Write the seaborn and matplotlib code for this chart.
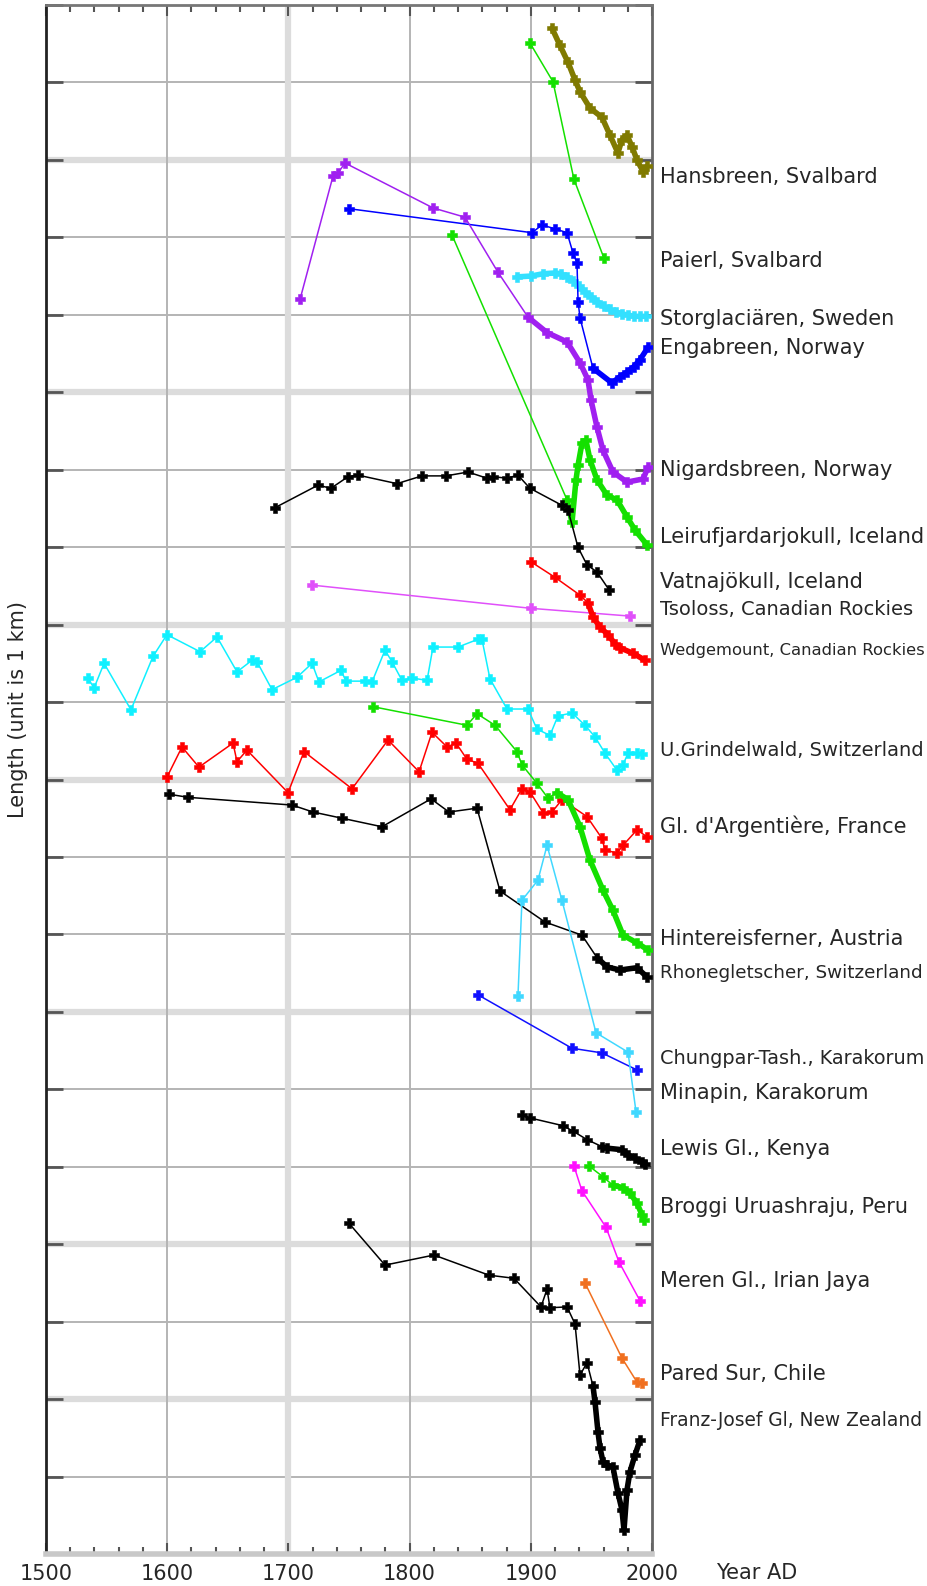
import matplotlib
matplotlib.use("Agg")
import matplotlib.pyplot as plt
import seaborn as sns
import pandas as pd
from matplotlib.ticker import MultipleLocator

sns.set_theme(style="white")
plt.rcParams['font.family'] = ['DejaVu Sans']

# ---------------- data (year AD, length in km, arbitrary offset) ----------------
hansbreen_year = [1917.5, 1924, 1930.7, 1936.5, 1940.6, 1948.8, 1958.7, 1965.3, 1971.9, 1975.2, 1979.4, 1983.5, 1987.6, 1992.6, 1995.9]
hansbreen_len = [19.70, 19.48, 19.26, 19.03, 18.88, 18.67, 18.55, 18.32, 18.09, 18.26, 18.32, 18.17, 18.00, 17.85, 17.92]

paierl_year = [1899.3, 1918.3, 1935.6, 1960.4]
paierl_len = [19.51, 19.01, 17.75, 16.73]

storglaciaren_year = [1889, 1900, 1910, 1920, 1925, 1930, 1935, 1940, 1945, 1950, 1955, 1960, 1965, 1970, 1975, 1980, 1985, 1990, 1995]
storglaciaren_len = [16.49, 16.50, 16.53, 16.54, 16.53, 16.49, 16.44, 16.37, 16.29, 16.23, 16.17, 16.11, 16.07, 16.04, 16.01, 16.00, 15.98, 15.98, 15.98]

engabreen_year = [1750.0, 1901.0, 1909.2, 1920.0, 1929.9, 1934.8, 1938.1, 1939.0, 1940.6, 1951.3, 1967.0, 1973.6, 1979.4, 1985.0, 1990.1, 1996.7]
engabreen_len = [17.37, 17.06, 17.16, 17.11, 17.06, 16.80, 16.67, 16.17, 15.96, 15.31, 15.12, 15.20, 15.26, 15.33, 15.42, 15.58]

nigardsbreen_year = [1709.6, 1736.8, 1740.9, 1746.7, 1819.3, 1845.7, 1872.9, 1897.7, 1913.4, 1929.9, 1940.6, 1947.2, 1949.7, 1954.6, 1959.6, 1967.8, 1979.4, 1992.6, 1996.7]
nigardsbreen_len = [16.20, 17.79, 17.83, 17.96, 17.38, 17.26, 16.55, 15.97, 15.77, 15.65, 15.38, 15.16, 14.90, 14.55, 14.25, 13.97, 13.84, 13.88, 14.03]

leiru_year = [1835.0, 1929.9, 1934.0, 1937.3, 1939.0, 1942.2, 1945.5, 1948.8, 1954.6, 1962.9, 1971.1, 1979.4, 1986.0, 1995.9]
leiru_len = [17.03, 13.61, 13.32, 13.87, 14.06, 14.34, 14.38, 14.13, 13.87, 13.67, 13.61, 13.39, 13.22, 13.03]

vatna_year = [1689, 1724.4, 1735.1, 1749.2, 1757.4, 1789.6, 1810.2, 1830, 1848.2, 1863.9, 1868.8, 1880.4, 1889.4, 1899.3, 1925.7, 1930.7, 1938.9, 1946.4, 1954.6, 1964.5]
vatna_len = [13.51, 13.80, 13.76, 13.91, 13.93, 13.82, 13.92, 13.92, 13.97, 13.89, 13.91, 13.89, 13.93, 13.76, 13.54, 13.48, 13.00, 12.77, 12.68, 12.45]

tsoloss_year = [1719.5, 1900.2, 1981.8]
tsoloss_len = [12.51, 12.21, 12.11]

wedge_year = [1900.2, 1920, 1940.6, 1947.2, 1951.3, 1957, 1963.7, 1969.5, 1973.6, 1984.3, 1994.2]
wedge_len = [12.81, 12.61, 12.38, 12.28, 12.10, 11.97, 11.87, 11.75, 11.70, 11.63, 11.54]

grindel_year = [1534.7, 1539.6, 1547.9, 1570.1, 1588.3, 1599.8, 1627.1, 1641.1, 1657.6, 1670, 1674.1, 1686.5, 1707.1, 1719.5, 1725.2, 1743.4, 1747.5, 1763.2, 1769, 1779.7, 1785.5, 1793.7, 1802, 1814.4, 1819.3, 1839.9, 1856.4, 1859.7, 1866.3, 1880.4, 1897.7, 1905.1, 1915.8, 1922.4, 1934, 1944.7, 1953, 1961.2, 1971.1, 1976.1, 1980.2, 1987.6, 1991.7]
grindel_len = [11.31, 11.18, 11.50, 10.90, 11.59, 11.87, 11.65, 11.84, 11.39, 11.54, 11.52, 11.16, 11.32, 11.50, 11.26, 11.41, 11.27, 11.27, 11.26, 11.67, 11.52, 11.28, 11.31, 11.28, 11.71, 11.71, 11.81, 11.81, 11.30, 10.91, 10.91, 10.65, 10.57, 10.82, 10.86, 10.70, 10.55, 10.34, 10.12, 10.19, 10.34, 10.34, 10.33]

hinter_year = [1769.8, 1847.4, 1855.6, 1870.5, 1888.6, 1892.7, 1905.1, 1914.2, 1921.6, 1930.7, 1940.6, 1948.8, 1959.6, 1967.8, 1976.1, 1987.6, 1996.7]
hinter_len = [10.94, 10.70, 10.85, 10.70, 10.36, 10.19, 9.95, 9.76, 9.83, 9.74, 9.39, 8.96, 8.57, 8.31, 7.99, 7.89, 7.80]

argent_year = [1599.8, 1612.2, 1626.2, 1654.3, 1657.6, 1665.8, 1699.7, 1712.9, 1752.5, 1782.2, 1807.8, 1818.5, 1830.9, 1838.3, 1847.4, 1856.4, 1882.8, 1892.7, 1899.3, 1910.1, 1917.5, 1925.7, 1946.4, 1958.7, 1961.2, 1971.1, 1976.1, 1987.6, 1995.9]
argent_len = [10.03, 10.42, 10.16, 10.47, 10.23, 10.38, 9.83, 10.36, 9.88, 10.51, 10.10, 10.61, 10.42, 10.47, 10.26, 10.21, 9.61, 9.88, 9.84, 9.57, 9.58, 9.74, 9.52, 9.24, 9.09, 9.05, 9.15, 9.35, 9.26]

rhone_year = [1601.5, 1617.2, 1703, 1720.3, 1744.2, 1777.2, 1817.7, 1832.5, 1855.6, 1874.6, 1911.7, 1942.2, 1954.6, 1962.9, 1973.6, 1987.6, 1995.9]
rhone_len = [9.81, 9.77, 9.67, 9.58, 9.50, 9.39, 9.75, 9.58, 9.63, 8.56, 8.16, 7.99, 7.70, 7.58, 7.54, 7.57, 7.45]

chungpar_year = [1856.4, 1934, 1958.7, 1987.6]
chungpar_len = [7.22, 6.53, 6.47, 6.25]

minapin_year = [1889.4, 1892.7, 1905.9, 1913.4, 1925.7, 1953.8, 1980.2, 1986.8]
minapin_len = [7.20, 8.44, 8.70, 9.15, 8.44, 6.73, 6.48, 5.71]

lewis_year = [1892.7, 1899.3, 1926.6, 1934.8, 1946.4, 1958.7, 1962.9, 1975.2, 1980.2, 1986, 1991.7, 1994.2]
lewis_len = [5.67, 5.63, 5.53, 5.46, 5.35, 5.26, 5.24, 5.22, 5.15, 5.11, 5.06, 5.04]

broggi_year = [1948, 1959.6, 1967.8, 1976.1, 1981.8, 1987.6, 1991.7, 1993.4]
broggi_len = [5.01, 4.87, 4.76, 4.73, 4.66, 4.53, 4.38, 4.31]

meren_year = [1935.6, 1942.2, 1962, 1972.8, 1990.1]
meren_len = [5.01, 4.69, 4.22, 3.77, 3.27]

pared_year = [1944.7, 1975.2, 1987.6, 1991.7]
pared_len = [3.50, 2.53, 2.22, 2.21]

franz_year = [1750, 1779.7, 1820.1, 1865.5, 1886.1, 1908.4, 1913.4, 1915.8, 1929.9, 1936.5, 1940.6, 1946.4, 1951.3, 1953, 1955.4, 1957.1, 1959.6, 1962.9, 1967.8, 1971.9, 1975.2, 1976.9, 1979.4, 1981.8, 1986, 1990.1]
franz_len = [4.27, 3.73, 3.86, 3.60, 3.56, 3.19, 3.42, 3.18, 3.19, 2.97, 2.31, 2.47, 2.17, 1.96, 1.58, 1.37, 1.19, 1.15, 1.12, 0.79, 0.57, 0.31, 0.83, 1.06, 1.28, 1.47]

glacier_names = ["Hansbreen, Svalbard", "Paierl, Svalbard", "Storglaciären, Sweden", "Engabreen, Norway",
                 "Nigardsbreen, Norway", "Leirufjardarjokull, Iceland", "Vatnajökull, Iceland",
                 "Tsoloss, Canadian Rockies", "Wedgemount, Canadian Rockies", "U.Grindelwald, Switzerland",
                 "Gl. d'Argentière, France", "Hintereisferner, Austria", "Rhonegletscher, Switzerland",
                 "Chungpar-Tash., Karakorum", "Minapin, Karakorum", "Lewis Gl., Kenya",
                 "Broggi Uruashraju, Peru", "Meren Gl., Irian Jaya", "Pared Sur, Chile",
                 "Franz-Josef Gl, New Zealand"]
label_pos = [17.78, 16.69, 15.95, 15.57, 14.0, 13.13, 12.55, 12.20, 11.67, 10.37,
             9.40, 7.94, 7.50, 6.40, 5.95, 5.23, 4.48, 3.52, 2.32, 1.72]
x_ticks = [1500, 1600, 1700, 1800, 1900, 2000]

# ---------------- styles ----------------
GREEN = "#14e000"
series = [
    (hansbreen_year, hansbreen_len, "#807a00", 1900),
    (paierl_year, paierl_len, GREEN, None),
    (storglaciaren_year, storglaciaren_len, "#33e0ff", 1880),
    (engabreen_year, engabreen_len, "#0000ff", 1945),
    (nigardsbreen_year, nigardsbreen_len, "#a020f0", 1895),
    (leiru_year, leiru_len, GREEN, 1929),
    (vatna_year, vatna_len, "black", None),
    (tsoloss_year, tsoloss_len, "#e050fa", None),
    (wedge_year, wedge_len, "#ff0000", 1945),
    (grindel_year, grindel_len, "#10f0ff", None),
    (argent_year, argent_len, "#ff0000", None),
    (hinter_year, hinter_len, GREEN, 1920),
    (rhone_year, rhone_len, "black", 1950),
    (chungpar_year, chungpar_len, "#1010ff", None),
    (minapin_year, minapin_len, "#40d8ff", None),
    (lewis_year, lewis_len, "black", 1955),
    (broggi_year, broggi_len, GREEN, 1960),
    (meren_year, meren_len, "#ff10ff", None),
    (pared_year, pared_len, "#f07020", None),
    (franz_year, franz_len, "black", 1950),
]

W, H = 928, 1586
fig = plt.figure(figsize=(W / 100, H / 100), dpi=100)
ax = fig.add_axes([46 / W, 32 / H, 606 / W, 1549 / H])
ax.set_xlim(1500, 2000)
ax.set_ylim(0, 20)

# grid (dark thin and light thick lines)
light_y = [2, 4, 7, 10, 12, 15, 18]
for k in range(1, 20):
    if k in light_y:
        ax.axhline(k, color="#dcdcdc", lw=4.5, zorder=0)
    else:
        ax.axhline(k, color="#b4b4b4", lw=1.4, zorder=0)
for xv in [1600, 1800, 1900]:
    ax.axvline(xv, color="#b4b4b4", lw=1.4, zorder=0)
ax.axvline(1700, color="#dcdcdc", lw=4.5, zorder=0)

for yrs, vals, color, dense_from in series:
    df = pd.DataFrame({"year": yrs, "length": vals})
    sns.lineplot(data=df, x="year", y="length", color=color, lw=1.1, marker="P",
                 markersize=6.5, markeredgecolor=color, markeredgewidth=0.4,
                 sort=False, errorbar=None, ax=ax, zorder=3)
    if dense_from is not None:
        d = df[df["year"] >= dense_from]
        sns.lineplot(data=d, x="year", y="length", color=color, lw=4.0,
                     sort=False, errorbar=None, ax=ax, zorder=3)

condensed = {"Tsoloss, Canadian Rockies", "Wedgemount, Canadian Rockies", "Franz-Josef Gl, New Zealand"}
label_texts = []
for name, ypos in zip(glacier_names, label_pos):
    size = 14 if name in condensed else 15
    t = ax.text(2006.5, ypos, name, va="center", ha="left", fontsize=size, clip_on=False)
    label_texts.append(t)

ax.set_xticks(x_ticks)
ax.set_xticklabels([str(v) for v in x_ticks])
ax.xaxis.set_minor_locator(MultipleLocator(20))
ax.set_yticks(range(0, 21))
ax.set_yticklabels([])
ax.tick_params(axis="x", which="major", direction="in", length=8, width=1.5,
               top=True, bottom=True, color="#555555", labelsize=15, pad=7)
ax.tick_params(axis="x", which="minor", direction="in", length=5, width=1.5,
               top=True, bottom=True, color="#555555")
ax.tick_params(axis="y", which="major", direction="in", length=12, width=2,
               left=True, right=True, color="#555555")
ax.set_xlabel("")
ax.set_ylabel("")

ax.spines["left"].set_color("#222222")
ax.spines["left"].set_linewidth(2)
ax.spines["right"].set_color("#666666")
ax.spines["right"].set_linewidth(2)
ax.spines["top"].set_color("#777777")
ax.spines["top"].set_linewidth(2)
ax.spines["bottom"].set_color("#c8c8c8")
ax.spines["bottom"].set_linewidth(4)

fig.text(757 / W, 1 - 1573 / H, "Year AD", ha="center", va="center", fontsize=15)
fig.text(18 / W, 1 - 710 / H, "Length (unit is 1 km)", ha="center", va="center",
         rotation=90, fontsize=15)

# shrink long right-hand labels so that they stay inside the figure
fig.canvas.draw()
renderer = fig.canvas.get_renderer()
limit = W - 4
for t in label_texts:
    bb = t.get_window_extent(renderer)
    if bb.x1 > limit:
        avail = limit - bb.x0
        t.set_fontsize(t.get_fontsize() * avail / bb.width)

fig.savefig("out.png", dpi=100)
